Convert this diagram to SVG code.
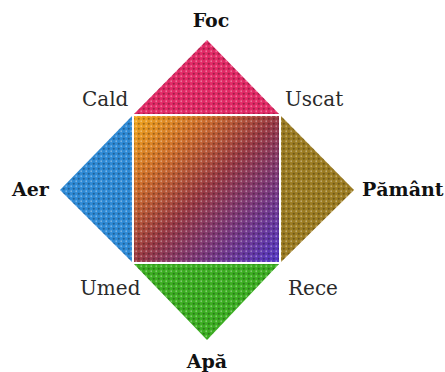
<svg xmlns="http://www.w3.org/2000/svg" width="445" height="372" viewBox="0 0 445 372">
<style>
.lbl{font-family:"DejaVu Serif","Liberation Serif",serif;font-size:20px;fill:#2a2a2a}
.el{font-family:"DejaVu Serif","Liberation Serif",serif;font-size:19px;font-weight:bold;fill:#111}
.dots{fill:url(#halftone)}
</style>
<defs>
<linearGradient id="mix" x1="0" y1="0" x2="1" y2="1">
<stop offset="0" stop-color="#f2aa1c"/>
<stop offset="0.25" stop-color="#d0702c"/>
<stop offset="0.5" stop-color="#9a3a44"/>
<stop offset="1" stop-color="#5238c8"/>
</linearGradient>
<pattern id="halftone" width="5" height="5" patternUnits="userSpaceOnUse">
<circle cx="1.25" cy="1.25" r="0.9" fill="#ffffff" fill-opacity="0.35"/>
<circle cx="3.75" cy="3.75" r="1.1" fill="#000000" fill-opacity="0.3"/>
</pattern>
</defs>
<rect width="445" height="372" fill="#ffffff"/>
<g id="foc">
<polygon points="133,115 207,40 280,115" fill="#e22a66"/>
<polygon class="dots" points="133,115 207,40 280,115"/>
<text class="el" x="211" y="27" text-anchor="middle">Foc</text>
</g>
<g id="aer">
<polygon points="133,115 60,190 133,263" fill="#2e8ad6"/>
<polygon class="dots" points="133,115 60,190 133,263"/>
<text class="el" x="12" y="196">Aer</text>
</g>
<g id="pamant">
<polygon points="280,115 354,190 280,263" fill="#9c7c22"/>
<polygon class="dots" points="280,115 354,190 280,263"/>
<text class="el" x="362" y="196">Pământ</text>
</g>
<g id="apa">
<polygon points="133,263 207,340 280,263" fill="#3cae22"/>
<polygon class="dots" points="133,263 207,340 280,263"/>
<text class="el" x="207" y="368" text-anchor="middle">Apă</text>
</g>
<g id="amestec">
<rect x="133" y="115" width="147" height="148" fill="url(#mix)"/>
<rect class="dots" x="133" y="115" width="147" height="148"/>
<rect x="133" y="115" width="147" height="148" fill="none" stroke="#ffffff" stroke-width="2"/>
</g>
<g id="calitati">
<text class="lbl" x="82" y="106">Cald</text>
<text class="lbl" x="285" y="106">Uscat</text>
<text class="lbl" x="80" y="295">Umed</text>
<text class="lbl" x="288" y="295">Rece</text>
</g>
</svg>
